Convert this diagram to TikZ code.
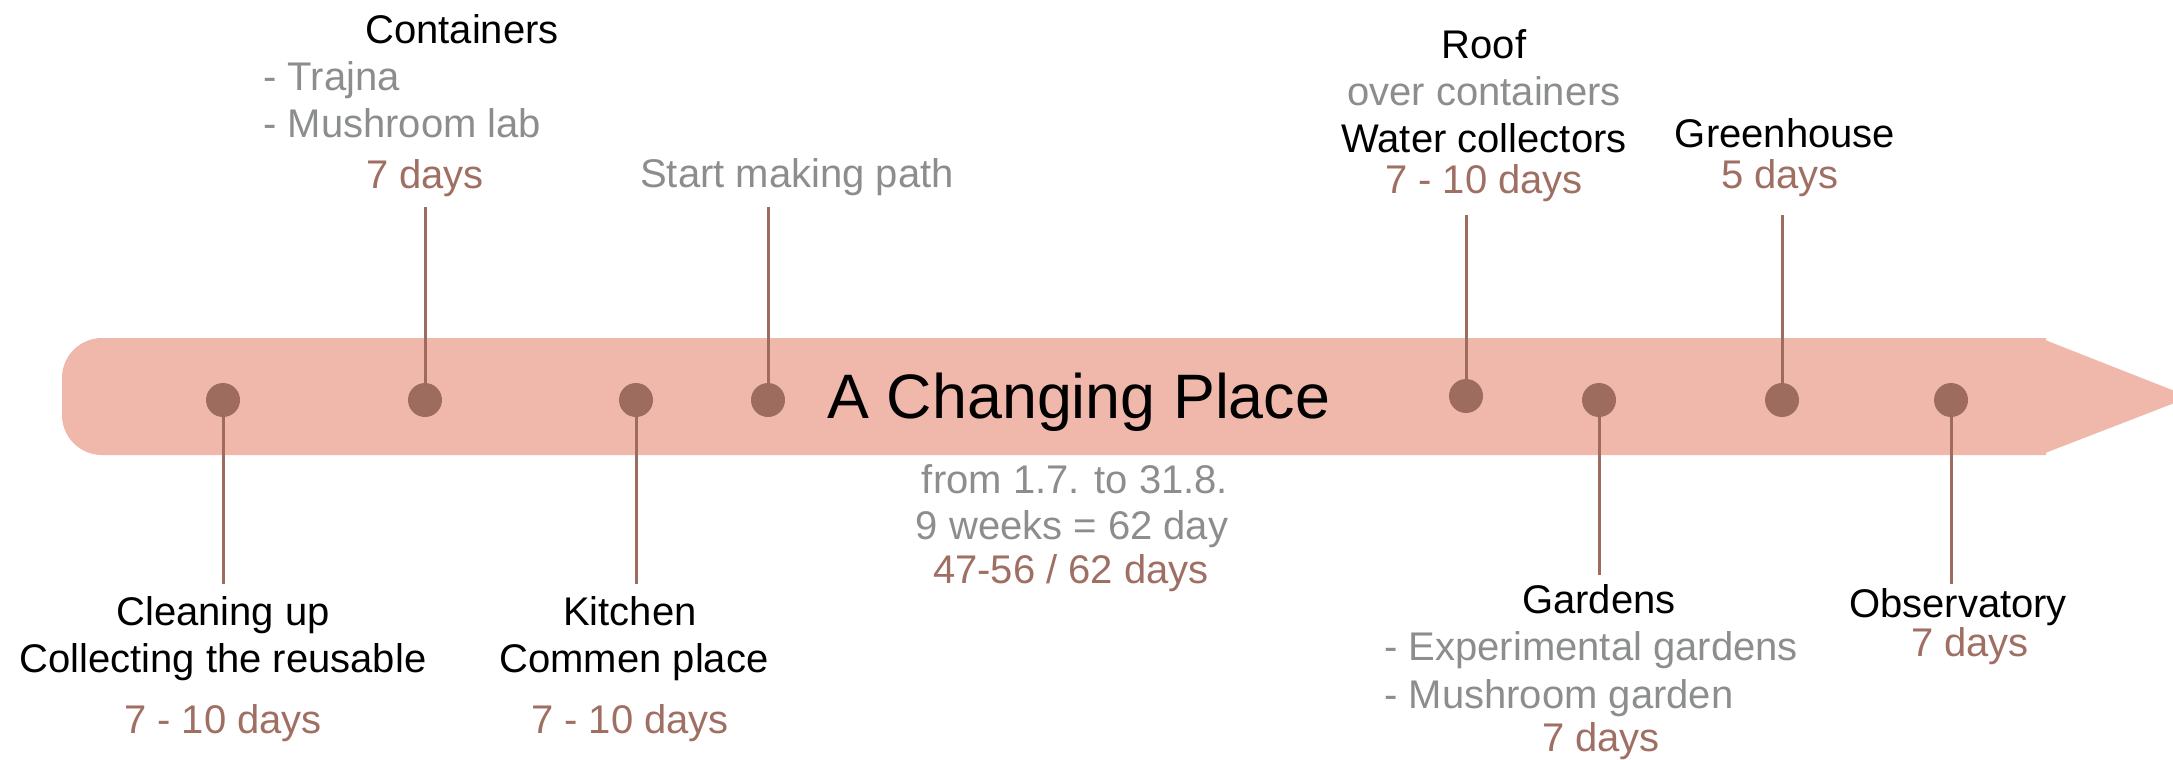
\documentclass[tikz,border=0pt]{standalone}
\usepackage{fontspec}
\setmainfont{Liberation Sans}
\definecolor{bandpink}{HTML}{F0B8AB}
\definecolor{stembrown}{HTML}{9E6C5F}
\definecolor{notegray}{HTML}{8C8E8E}
\definecolor{daysbrown}{HTML}{A06F63}

\begin{document}
\begin{tikzpicture}[x=0.5pt, y=-0.5pt,
  dot/.style={circle, fill=stembrown, minimum size=17pt, inner sep=0pt},
  stem/.style={stembrown, line width=1.5pt},
  lbl/.style={anchor=base, inner sep=0pt, font=\fontsize{20}{24}\selectfont},
  item/.style={lbl, anchor=base west, text=notegray},
  note/.style={lbl, text=notegray},
  days/.style={lbl, text=daysbrown}]
\clip (0,0) rectangle (2173,760);
\fill[bandpink, rounded corners=20pt] (2046,455) -- (62,455) -- (62,338) -- (2046,338);
\fill[bandpink] (2040,338) -- (2190,397) -- (2040,455) -- cycle;
\node[anchor=base, inner sep=0pt, font=\fontsize{31.4}{36}\selectfont] (title) at (1079,418) {A Changing Place};

\node[dot] (clean) at (223,400) {};
\node[dot] (cont) at (425,400) {};
\node[dot] (kitchen) at (636,400) {};
\node[dot] (path) at (768,400) {};
\node[dot] (roof) at (1466,396) {};
\node[dot] (garden) at (1599,400) {};
\node[dot] (green) at (1782,400) {};
\node[dot] (obs) at (1951,400) {};

\coordinate (cleanend) at (223,584);
\coordinate (contend) at (425,207);
\coordinate (kitchenend) at (636,584);
\coordinate (pathend) at (768,207);
\coordinate (roofend) at (1466,215);
\coordinate (gardenend) at (1599,575);
\coordinate (greenend) at (1782,215);
\coordinate (obsend) at (1951,584);
\draw[stem] (clean) -- (cleanend);
\draw[stem] (contend) -- (cont);
\draw[stem] (kitchen) -- (kitchenend);
\draw[stem] (pathend) -- (path);
\draw[stem] (roofend) -- (roof);
\draw[stem] (garden) -- (gardenend);
\draw[stem] (greenend) -- (green);
\draw[stem] (obs) -- (obsend);

\node[lbl] (conthead) at (462,43) {Containers};
\node[item] (trajna) at (263,90) {- Trajna};
\node[item] (mushlab) at (263,137) {- Mushroom lab};
\node[days] (contdays) at (425,188) {7 days};
\node[note] (pathtext) at (797,187) {Start making path};

\node[lbl] (roofhead) at (1484,58) {Roof};
\node[note] (roofnote) at (1484,105) {over containers};
\node[lbl] (water) at (1484,152) {Water collectors};
\node[days] (roofdays) at (1484,193) {7 - 10 days};
\node[lbl] (greenhead) at (1785,147) {Greenhouse};
\node[days] (greendays) at (1780,188) {5 days};

\node[note] (from) at (1075,493) {from 1.7. to 31.8.};
\node[note] (weeks) at (1072,539) {9 weeks = 62 day};
\node[days] (total) at (1071,583) {47-56 / 62 days};

\node[lbl] (cleanhead) at (223,625) {Cleaning up};
\node[lbl] (collect) at (223,672) {Collecting the reusable};
\node[days] (cleandays) at (223,733) {7 - 10 days};
\node[lbl] (kitchenhead) at (630,625) {Kitchen};
\node[lbl] (commen) at (634,672) {Commen place};
\node[days] (kitchendays) at (630,733) {7 - 10 days};

\node[lbl] (gardenhead) at (1599,613) {Gardens};
\node[item] (experim) at (1384,660) {- Experimental gardens};
\node[item] (mushgarden) at (1384,708) {- Mushroom garden};
\node[days] (gardendays) at (1601,751) {7 days};
\node[lbl] (obshead) at (1958,617) {Observatory};
\node[days] (obsdays) at (1970,656) {7 days};
\end{tikzpicture}
\end{document}
